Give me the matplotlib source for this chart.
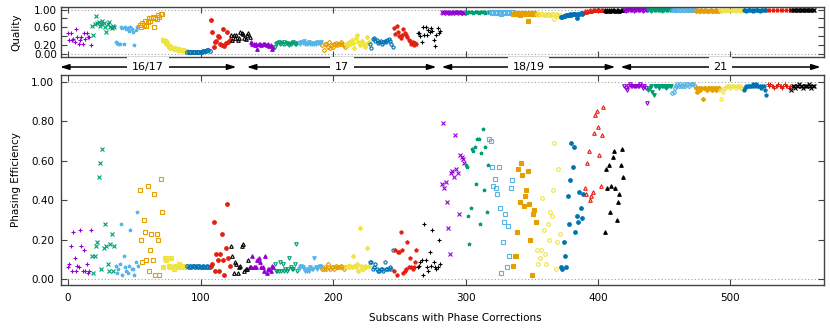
import matplotlib
matplotlib.use("Agg")
import matplotlib.pyplot as plt
import numpy as np

# points per scan segment (x is just the running subscan index)
seg_sizes = [18, 18, 18, 18, 18, 18, 15, 15,
             18, 18, 18, 18, 18, 18, 18, 18,
             18, 18, 18, 18, 18, 18, 15, 15,
             18, 18, 18, 18, 18, 18, 18, 18]

region_labels = ["16/17", "17", "18/19", "21"]
region_start = [-6, 135, 282, 417]
region_end = [127, 278, 413, 568]

quality_a = [
    0.47, 0.32, 0.48, 0.32, 0.35, 0.28, 0.56, 0.39, 0.24, 0.32, 0.39, 0.24, 0.47, 0.35, 0.47, 0.39, 0.39, 0.21,
    0.63, 0.43, 0.67, 0.85, 0.70, 0.72, 0.63, 0.67, 0.74, 0.70, 0.61, 0.50, 0.67, 0.72, 0.61, 0.58, 0.63, 0.61,
    0.28, 0.26, 0.24, 0.24, 0.61, 0.58, 0.22, 0.61, 0.56, 0.59, 0.52, 0.61, 0.56, 0.50, 0.21, 0.54, 0.61, 0.64,
    0.66, 0.60, 0.70, 0.66, 0.75, 0.63, 0.72, 0.82, 0.75, 0.82, 0.84, 0.60, 0.82, 0.78, 0.87, 0.84, 0.91, 0.90,
    0.33, 0.30, 0.27, 0.23, 0.19, 0.16, 0.15, 0.13, 0.13, 0.12, 0.12, 0.11, 0.10, 0.10, 0.09, 0.10, 0.08, 0.07,
    0.06, 0.05, 0.05, 0.05, 0.06, 0.05, 0.05, 0.05, 0.06, 0.05, 0.06, 0.06, 0.07, 0.08, 0.08, 0.09, 0.09, 0.08,
    0.76, 0.50, 0.17, 0.28, 0.30, 0.41, 0.39, 0.24, 0.21, 0.56, 0.19, 0.26, 0.50, 0.28, 0.33,
    0.43, 0.32, 0.43, 0.36, 0.44, 0.33, 0.36, 0.50, 0.47, 0.45, 0.36, 0.34, 0.43, 0.47, 0.39]
eff_a = [
    0.06, 0.08, 0.17, 0.04, 0.24, 0.11, 0.04, 0.07, 0.06, 0.25, 0.17, 0.04, 0.15, 0.04, 0.08, 0.03, 0.04, 0.25,
    0.12, 0.03, 0.12, 0.17, 0.19, 0.52, 0.59, 0.05, 0.66, 0.16, 0.28, 0.17, 0.08, 0.04, 0.18, 0.23, 0.04, 0.17,
    0.07, 0.03, 0.05, 0.08, 0.28, 0.02, 0.12, 0.06, 0.04, 0.03, 0.07, 0.25, 0.05, 0.05, 0.02, 0.09, 0.34, 0.07,
    0.45, 0.20, 0.09, 0.30, 0.24, 0.10, 0.47, 0.04, 0.15, 0.23, 0.10, 0.43, 0.02, 0.23, 0.20, 0.02, 0.51, 0.34,
    0.06, 0.11, 0.10, 0.11, 0.07, 0.06, 0.11, 0.06, 0.05, 0.07, 0.06, 0.07, 0.08, 0.06, 0.07, 0.06, 0.07, 0.06,
    0.07, 0.06, 0.07, 0.06, 0.07, 0.07, 0.06, 0.07, 0.06, 0.07, 0.06, 0.06, 0.07, 0.06, 0.06, 0.07, 0.06, 0.06,
    0.07, 0.08, 0.29, 0.04, 0.13, 0.10, 0.04, 0.13, 0.23, 0.10, 0.02, 0.16, 0.38, 0.11, 0.07,
    0.17, 0.12, 0.03, 0.09, 0.08, 0.03, 0.06, 0.07, 0.17, 0.18, 0.04, 0.05, 0.05, 0.10, 0.06]

quality_b = [
    0.28, 0.22, 0.24, 0.20, 0.22, 0.11, 0.22, 0.24, 0.20, 0.22, 0.24, 0.22, 0.20, 0.22, 0.18, 0.20, 0.11, 0.17,
    0.17, 0.22, 0.26, 0.27, 0.24, 0.26, 0.22, 0.27, 0.24, 0.26, 0.22, 0.20, 0.24, 0.26, 0.27, 0.22, 0.24, 0.26,
    0.26, 0.24, 0.28, 0.26, 0.30, 0.24, 0.22, 0.26, 0.28, 0.22, 0.24, 0.26, 0.22, 0.24, 0.28, 0.26, 0.24, 0.28,
    0.20, 0.10, 0.22, 0.24, 0.17, 0.28, 0.13, 0.20, 0.17, 0.22, 0.26, 0.20, 0.24, 0.22, 0.28, 0.24, 0.20, 0.17,
    0.24, 0.20, 0.28, 0.22, 0.33, 0.26, 0.13, 0.37, 0.44, 0.28, 0.20, 0.26, 0.30, 0.24, 0.17, 0.22, 0.39, 0.28,
    0.22, 0.13, 0.35, 0.37, 0.30, 0.33, 0.26, 0.28, 0.30, 0.24, 0.28, 0.30, 0.28, 0.33, 0.35, 0.30, 0.22, 0.17,
    0.58, 0.46, 0.63, 0.50, 0.41, 0.37, 0.44, 0.56, 0.48, 0.44, 0.39, 0.33, 0.30, 0.24, 0.28, 0.21, 0.26, 0.22,
    0.47, 0.47, 0.41, 0.28, 0.61, 0.44, 0.61, 0.44, 0.55, 0.50, 0.59, 0.52, 0.33, 0.19, 0.43, 0.59, 0.47, 0.52]
eff_b = [
    0.06, 0.12, 0.06, 0.06, 0.06, 0.10, 0.11, 0.09, 0.06, 0.06, 0.04, 0.12, 0.03, 0.05, 0.05, 0.04, 0.07, 0.06,
    0.08, 0.04, 0.04, 0.04, 0.09, 0.04, 0.08, 0.04, 0.05, 0.04, 0.05, 0.11, 0.06, 0.05, 0.05, 0.08, 0.18, 0.04,
    0.05, 0.06, 0.07, 0.06, 0.05, 0.04, 0.04, 0.05, 0.04, 0.06, 0.05, 0.05, 0.11, 0.06, 0.05, 0.06, 0.07, 0.06,
    0.05, 0.05, 0.06, 0.05, 0.08, 0.06, 0.05, 0.06, 0.06, 0.05, 0.07, 0.06, 0.06, 0.06, 0.07, 0.06, 0.05, 0.06,
    0.06, 0.07, 0.06, 0.07, 0.06, 0.12, 0.07, 0.06, 0.08, 0.04, 0.26, 0.07, 0.05, 0.05, 0.07, 0.06, 0.16, 0.07,
    0.09, 0.09, 0.05, 0.06, 0.08, 0.05, 0.04, 0.04, 0.05, 0.05, 0.04, 0.09, 0.05, 0.05, 0.05, 0.06, 0.05, 0.15,
    0.04, 0.15, 0.02, 0.14, 0.14, 0.24, 0.15, 0.03, 0.04, 0.05, 0.19, 0.06, 0.11, 0.06, 0.05, 0.06, 0.09, 0.15,
    0.06, 0.07, 0.09, 0.10, 0.02, 0.28, 0.10, 0.06, 0.04, 0.14, 0.07, 0.25, 0.09, 0.06, 0.05, 0.06, 0.20, 0.08]

quality_c = [
    0.94, 0.93, 0.94, 0.94, 0.93, 0.94, 0.93, 0.94, 0.92, 0.94, 0.94, 0.93, 0.94, 0.94, 0.93, 0.94, 0.92, 0.93,
    0.94, 0.93, 0.94, 0.94, 0.95, 0.94, 0.93, 0.94, 0.94, 0.94, 0.93, 0.94, 0.95, 0.94, 0.94, 0.93, 0.94, 0.94,
    0.94, 0.95, 0.93, 0.94, 0.92, 0.94, 0.95, 0.93, 0.94, 0.90, 0.95, 0.93, 0.94, 0.95, 0.94, 0.93, 0.95, 0.94,
    0.91, 0.92, 0.93, 0.90, 0.92, 0.88, 0.91, 0.93, 0.92, 0.90, 0.91, 0.75, 0.92, 0.90, 0.92, 0.91, 0.93, 0.89,
    0.90, 0.88, 0.91, 0.89, 0.90, 0.87, 0.88, 0.90, 0.89, 0.87, 0.88, 0.91, 0.89, 0.78, 0.88, 0.90, 0.86, 0.88,
    0.83, 0.84, 0.86, 0.85, 0.87, 0.88, 0.87, 0.89, 0.88, 0.90, 0.89, 0.91, 0.80, 0.90, 0.91, 0.92, 0.91, 0.93,
    0.96, 0.95, 0.96, 0.97, 0.98, 0.97, 0.98, 0.99, 0.98, 0.99, 0.99, 0.98, 0.99, 0.99, 0.98,
    0.98, 0.97, 0.98, 0.98, 0.97, 0.98, 0.98, 0.98, 0.97, 0.98, 0.98, 0.97, 0.98, 0.98, 0.98]
eff_c = [
    0.48, 0.79, 0.46, 0.49, 0.39, 0.26, 0.13, 0.54, 0.55, 0.52, 0.73, 0.56, 0.54, 0.33, 0.63, 0.62, 0.61, 0.59,
    0.58, 0.57, 0.32, 0.18, 0.36, 0.66, 0.65, 0.67, 0.48, 0.71, 0.71, 0.28, 0.64, 0.76, 0.45, 0.67, 0.34, 0.58,
    0.71, 0.70, 0.57, 0.47, 0.51, 0.46, 0.43, 0.57, 0.36, 0.03, 0.19, 0.29, 0.33, 0.06, 0.27, 0.12, 0.46, 0.50,
    0.07, 0.12, 0.12, 0.24, 0.56, 0.39, 0.59, 0.53, 0.37, 0.42, 0.45, 0.55, 0.38, 0.20, 0.02, 0.33, 0.35, 0.29,
    0.15, 0.08, 0.11, 0.15, 0.41, 0.25, 0.13, 0.08, 0.28, 0.20, 0.34, 0.32, 0.45, 0.69, 0.05, 0.19, 0.56, 0.23,
    0.06, 0.05, 0.19, 0.12, 0.06, 0.42, 0.28, 0.50, 0.69, 0.57, 0.67, 0.24, 0.32, 0.29, 0.44, 0.36, 0.31, 0.43,
    0.46, 0.43, 0.59, 0.65, 0.40, 0.42, 0.44, 0.74, 0.83, 0.85, 0.77, 0.63, 0.47, 0.73, 0.87,
    0.24, 0.56, 0.46, 0.58, 0.34, 0.47, 0.62, 0.65, 0.46, 0.30, 0.39, 0.43, 0.58, 0.66, 0.52]

quality_d = [
    0.98, 0.97, 0.98, 0.98, 0.99, 0.98, 0.98, 0.97, 0.98, 0.98, 0.98, 0.99, 0.98, 0.98, 0.97, 0.98, 0.98, 0.98,
    0.98, 0.98, 0.97, 0.98, 0.98, 0.98, 0.99, 0.98, 0.98, 0.98, 0.97, 0.98, 0.98, 0.98, 0.99, 0.98, 0.98, 0.98,
    0.98, 0.99, 0.98, 0.98, 0.98, 0.99, 0.98, 0.98, 0.99, 0.98, 0.98, 0.98, 0.99, 0.98, 0.98, 0.99, 0.98, 0.98,
    0.97, 0.98, 0.97, 0.97, 0.98, 0.97, 0.97, 0.98, 0.97, 0.97, 0.97, 0.98, 0.97, 0.97, 0.97, 0.98, 0.97, 0.97,
    0.98, 0.97, 0.98, 0.98, 0.97, 0.98, 0.98, 0.98, 0.97, 0.98, 0.98, 0.98, 0.97, 0.98, 0.98, 0.98, 0.97, 0.98,
    0.98, 0.98, 0.97, 0.98, 0.98, 0.98, 0.98, 0.97, 0.98, 0.98, 0.98, 0.98, 0.97, 0.98, 0.98, 0.98, 0.98, 0.98,
    0.99, 0.99, 0.98, 0.99, 0.99, 0.99, 0.98, 0.99, 0.99, 0.99, 0.99, 0.98, 0.99, 0.99, 0.99, 0.99, 0.98, 0.99,
    0.99, 0.99, 0.99, 0.98, 0.99, 0.99, 0.99, 0.99, 0.98, 0.99, 0.99, 0.99, 0.99, 0.99, 0.98, 0.99, 0.99, 0.99]
eff_d = [
    0.98, 0.97, 0.96, 0.98, 0.99, 0.98, 0.98, 0.98, 0.98, 0.98, 0.98, 0.98, 0.99, 0.98, 0.97, 0.98, 0.97, 0.89,
    0.96, 0.97, 0.98, 0.95, 0.93, 0.98, 0.98, 0.98, 0.97, 0.98, 0.98, 0.98, 0.98, 0.97, 0.98, 0.98, 0.98, 0.98,
    0.94, 0.95, 0.97, 0.98, 0.99, 0.98, 0.99, 0.98, 0.98, 0.99, 0.98, 0.99, 0.99, 0.98, 0.99, 0.99, 0.99, 0.98,
    0.97, 0.95, 0.97, 0.96, 0.97, 0.91, 0.97, 0.97, 0.96, 0.97, 0.97, 0.97, 0.96, 0.97, 0.97, 0.96, 0.97, 0.97,
    0.96, 0.91, 0.95, 0.97, 0.97, 0.98, 0.98, 0.98, 0.97, 0.98, 0.98, 0.98, 0.97, 0.98, 0.98, 0.98, 0.97, 0.97,
    0.96, 0.97, 0.98, 0.98, 0.98, 0.98, 0.98, 0.99, 0.98, 0.99, 0.98, 0.98, 0.98, 0.97, 0.98, 0.98, 0.96, 0.93,
    0.99, 0.98, 0.99, 0.98, 0.98, 0.97, 0.98, 0.98, 0.99, 0.98, 0.98, 0.97, 0.98, 0.99, 0.98, 0.98, 0.97, 0.98,
    0.96, 0.98, 0.98, 0.97, 0.98, 0.98, 0.99, 0.98, 0.98, 0.97, 0.98, 0.98, 0.98, 0.99, 0.98, 0.97, 0.98, 0.98]

# gnuplot-like line types: colour cycles every 8, point type every 15
colors = ["#9400d3", "#009e73", "#56b4e9", "#e69f00",
          "#f0e442", "#0072b2", "#e51e10", "#000000"]
markers = [("+", False), ("x", False), ("*", True), ("s", False), ("s", True),
           ("o", False), ("o", True), ("^", False), ("^", True), ("v", False),
           ("v", True), ("D", False), ("D", True), ("p", False), ("p", True)]

quality = quality_a + quality_b + quality_c + quality_d
efficiency = eff_a + eff_b + eff_c + eff_d

plt.rcParams["font.family"] = "DejaVu Sans"
plt.rcParams["font.size"] = 7.5

fig = plt.figure(figsize=(8.3, 3.32), dpi=100)
ax_q = fig.add_axes([0.0735, 0.829, 0.9193, 0.149])
ax_band = fig.add_axes([0.0735, 0.773, 0.9193, 0.056])
ax_e = fig.add_axes([0.0735, 0.1425, 0.9193, 0.6307])

spine_col = "#444444"
start = 0
for i, n in enumerate(seg_sizes):
    x = np.arange(start, start + n)
    c = colors[i % 8]
    m, filled = markers[i % 15]
    ms = 3.2 if m in "+x" else 2.6
    if m == "D":
        ms = 2.2
    for ax, vals in ((ax_q, quality), (ax_e, efficiency)):
        ax.plot(x, vals[start:start + n], linestyle="none", marker=m, ms=ms,
                mew=0.8, color=c, mfc=c if filled else "none", mec=c)
    start += n

for ax in (ax_q, ax_e):
    ax.set_xlim(-5.3, 570.6)
    ax.axhline(0, color="#a0a0a0", lw=0.8, ls=(0, (1, 2)), zorder=0)
    ax.axhline(1, color="#a0a0a0", lw=0.8, ls=(0, (1, 2)), zorder=0)
    ax.set_xticks([0, 100, 200, 300, 400, 500])
    ax.tick_params(direction="in", top=True, right=True, length=4,
                   width=0.8, color=spine_col, labelsize=7.5)
    for s in ax.spines.values():
        s.set_color(spine_col)
        s.set_linewidth(1.0)

ax_q.set_ylim(-0.055, 1.05)
ax_q.set_yticks([0, 0.2, 0.4, 0.6, 0.8, 1.0])
ax_q.set_yticklabels(["0.00", "0.20", "", "0.60", "", "1.00"])
ax_q.tick_params(labelbottom=False, pad=3)
ax_q.set_ylabel("Quality", fontsize=7.5)
ax_q.yaxis.set_label_coords(-0.052, 0.5)

ax_e.set_ylim(-0.027, 1.032)
ax_e.set_yticks([0, 0.2, 0.4, 0.6, 0.8, 1.0])
ax_e.set_yticklabels(["0.00", "0.20", "0.40", "0.60", "0.80", "1.00"])
ax_e.tick_params(axis="y", pad=5)
ax_e.tick_params(axis="x", pad=6)
ax_e.set_xlabel("Subscans with Phase Corrections", fontsize=7.5)
ax_e.xaxis.set_label_coords(0.517, -0.135)
ax_e.set_ylabel("Phasing Efficiency", fontsize=7.5)
ax_e.yaxis.set_label_coords(-0.052, 0.5)

# region arrows between the two panels
ax_band.set_xlim(-5.3, 570.6)
ax_band.set_ylim(0, 1)
ax_band.axis("off")
for lab, a, b in zip(region_labels, region_start, region_end):
    ax_band.annotate("", xy=(a, 0.45), xytext=(b, 0.45), annotation_clip=False,
                     arrowprops=dict(arrowstyle="<|-|>,head_length=0.7,head_width=0.22",
                                     color="black", lw=1.1, shrinkA=0, shrinkB=0))
    ax_band.text((a + b) / 2, 0.45, lab, ha="center", va="center", fontsize=8,
                 bbox=dict(facecolor="white", edgecolor="none", pad=3.5))

fig.savefig("out.png", dpi=100)
